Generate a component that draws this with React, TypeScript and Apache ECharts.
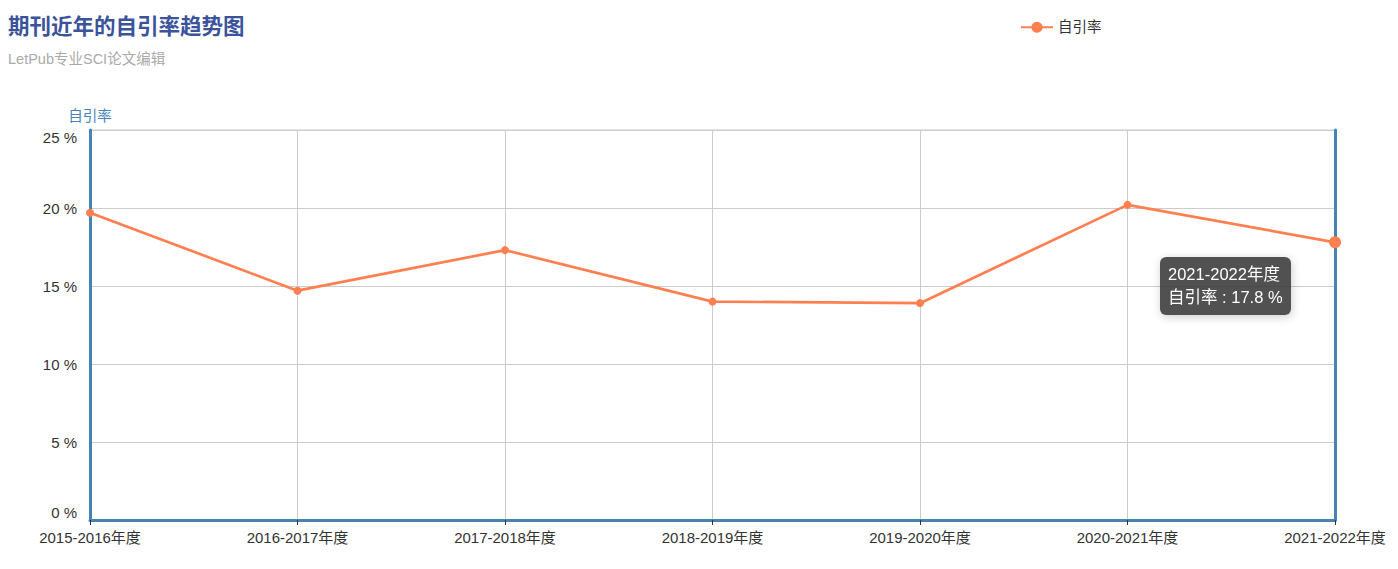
import React, { useEffect, useRef } from "react";
import * as echarts from "echarts";

const categories = [
  "2015-2016年度",
  "2016-2017年度",
  "2017-2018年度",
  "2018-2019年度",
  "2019-2020年度",
  "2020-2021年度",
  "2021-2022年度",
];
const selfCitationRate = [19.7, 14.7, 17.3, 14.0, 13.9, 20.2, 17.8];
const seriesName = "自引率";
const titleText = "期刊近年的自引率趋势图";
const subtitleText = "LetPub专业SCI论文编辑";
const highlightedIndex = 6;

const AXIS_BLUE = "#4682b4";
const LINE_ORANGE = "#ff7f50";
const FONT = '"Liberation Sans", Arial, "Noto Sans CJK SC", sans-serif';

export default function App() {
  const ref = useRef<HTMLDivElement>(null);
  useEffect(() => {
    document.body.style.margin = "0";
    const chart = echarts.init(ref.current!, undefined, { renderer: "svg" });
    chart.setOption({
      animation: false,
      textStyle: { fontFamily: FONT },
      title: {
        text: titleText,
        subtext: subtitleText,
        left: 3,
        top: 11,
        itemGap: 14,
        textStyle: { fontSize: 21.5, fontWeight: "bold", color: "#3a539b", fontFamily: FONT },
        subtextStyle: { fontSize: 14.5, color: "#aaaaaa", fontFamily: FONT },
      },
      legend: {
        data: [seriesName],
        left: 1015,
        top: 15,
        itemWidth: 32,
        itemHeight: 14,
        itemGap: 8,
        textStyle: { fontSize: 14.5, color: "#333", fontFamily: FONT },
      },
      tooltip: {
        trigger: "item",
        alwaysShowContent: true,
        transitionDuration: 0,
        backgroundColor: "rgba(50,50,50,0.85)",
        borderWidth: 0,
        borderRadius: 6,
        padding: [6, 8],
        textStyle: { color: "#fff", fontSize: 16.5, lineHeight: 23, fontFamily: FONT },
        formatter: (p: any) => `${p.name}<br/>${p.seriesName} : ${p.value} %`,
        position: (pt: number[]) => [pt[0] - 175, pt[1] + 15],
      },
      grid: {
        left: 90,
        right: 63,
        top: 130,
        bottom: 49,
        show: true,
        borderColor: "#cccccc",
        borderWidth: 1,
      },
      xAxis: {
        type: "category",
        data: categories,
        boundaryGap: false,
        axisLine: { show: true, lineStyle: { color: AXIS_BLUE, width: 3 } },
        axisTick: { show: true, length: 5, lineStyle: { color: "#333", width: 1 } },
        axisLabel: { fontSize: 15, color: "#333", margin: 10, fontFamily: FONT },
        splitLine: { show: true, lineStyle: { color: "#cccccc", width: 1 } },
      },
      yAxis: [
        {
          type: "value",
          name: seriesName,
          nameLocation: "end",
          nameGap: 7,
          nameTextStyle: { color: AXIS_BLUE, fontSize: 14.5, fontFamily: FONT, align: "center" },
          min: 0,
          max: 25,
          interval: 5,
          axisLine: { show: true, lineStyle: { color: AXIS_BLUE, width: 3 } },
          axisTick: { show: false },
          axisLabel: {
            fontSize: 15,
            color: "#333",
            margin: 13,
            formatter: "{value} %",
            fontFamily: FONT,
            verticalAlignMinLabel: "bottom",
            verticalAlignMaxLabel: "top",
          },
          splitLine: { show: true, lineStyle: { color: "#cccccc", width: 1 } },
        },
        {
          type: "value",
          position: "right",
          min: 0,
          max: 25,
          interval: 5,
          axisLine: { show: true, lineStyle: { color: AXIS_BLUE, width: 3 } },
          axisTick: { show: false },
          axisLabel: { show: false },
          splitLine: { show: false },
        },
      ],
      series: [
        {
          name: seriesName,
          type: "line",
          yAxisIndex: 0,
          data: selfCitationRate.map((v, i) =>
            i === highlightedIndex ? { value: v, symbolSize: 12 } : { value: v }
          ),
          symbol: "circle",
          symbolSize: 8,
          itemStyle: { color: LINE_ORANGE },
          lineStyle: { color: LINE_ORANGE, width: 2.7 },
        },
      ],
    });
    chart.dispatchAction({ type: "showTip", seriesIndex: 0, dataIndex: highlightedIndex });
    return () => chart.dispose();
  }, []);
  return <div ref={ref} style={{ width: 1398, height: 569 }} />;
}
